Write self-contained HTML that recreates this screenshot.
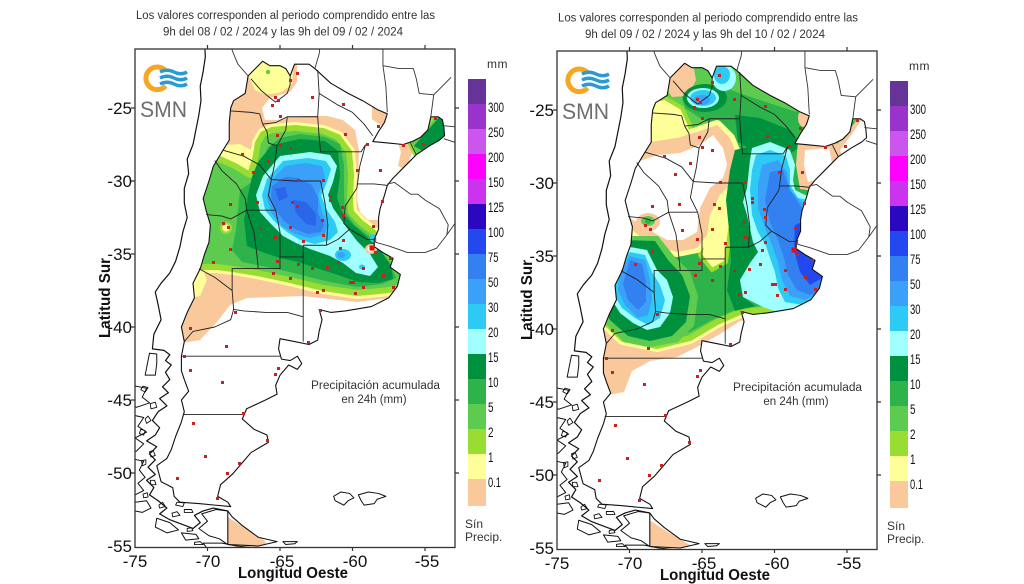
<!DOCTYPE html>
<html><head><meta charset="utf-8"><style>
html,body{margin:0;padding:0;background:#fff;width:1024px;height:584px;overflow:hidden}
svg{display:block}
text{font-family:"Liberation Sans",Arial,sans-serif}
</style></head><body>
<svg width="1024" height="584" viewBox="0 0 1024 584" xmlns="http://www.w3.org/2000/svg" xmlns:xlink="http://www.w3.org/1999/xlink">
<defs>
<clipPath id="fr"><rect x="135" y="49" width="320" height="498.5"/></clipPath>
<clipPath id="clipL">
<path transform="matrix(14.5 0 0 -14.6 1222.5 -257)" d="M-65.7,-22.1 L-65,-22.1 -64.6,-22.3 -64.3,-22.8 -64,-22 -63,-22 -62.6,-22.3 -61.5,-23.3 -60.3,-24 -59.3,-24.5 -58.3,-25.1 -57.6,-25.4 -57.8,-26 -58.2,-26.6 -58.6,-27.3 -57.5,-27.4 -56.5,-27.5 -55.9,-27.3 -55.3,-27 -54.8,-26.5 -54.6,-25.6 -54.1,-25.6 -53.8,-25.8 -53.7,-26.3 -53.65,-26.9 -54,-27.2 -54.7,-27.6 -55.6,-28.2 -56.3,-28.9 -57.2,-29.8 -57.6,-30.3 -57.8,-31 -58.1,-31.9 -58.2,-32.5 -58.2,-33.3 -58.5,-34 -58.5,-34.5 -57.9,-34.9 -57.2,-35.3 -57.4,-35.9 -56.7,-36.4 -56.9,-37.2 -57.5,-38 -58.7,-38.6 -60.5,-38.9 -61.5,-39 -62.3,-38.8 -62.1,-39.5 -62.3,-40.3 -62.4,-40.9 -63,-41.2 -64,-41 -65,-40.8 -65.1,-41.5 -64.9,-42.2 -64.3,-42.3 -63.8,-42 -63.5,-42.5 -63.8,-42.9 -64.4,-42.6 -65,-43.3 -65.3,-44 -65.2,-44.6 -66,-45 -67.3,-45.6 -67.6,-46.3 -66.8,-47 -65.9,-47.4 -65.8,-47.9 -67,-48.6 -67.6,-49.3 -68.3,-50.1 -69.1,-50.8 -69.3,-51.6 -68.6,-52 -68.4,-52.3 -69.5,-52.2 -70.5,-52.1 -71.9,-52 -72.3,-51.6 -72.4,-51 -73.2,-50.6 -73.5,-49.5 -72.8,-49 -72.5,-48.4 -72.2,-47.5 -71.8,-46.5 -71.6,-45.8 -71.8,-45 -71.3,-44.4 -71.6,-43.6 -71.8,-43 -71.8,-42 -71.6,-41 -71.8,-40 -71.4,-39 -70.9,-38 -71,-37 -70.5,-36 -70.2,-35 -69.9,-34.2 -69.8,-33 -70.1,-32 -70.3,-31.2 -69.9,-30 -69.6,-29 -69,-28 -68.5,-27.2 -68.5,-26 -68.4,-25 -68.2,-24.5 -67.4,-24 -67.2,-22.8 -66.8,-22.4 -66.2,-21.8 Z M-68.6,-52.6 L-68.3,-53 -67.6,-53.6 -66.5,-54.4 -65.2,-54.7 -66.5,-55 -68.6,-54.9 Z"/>
</clipPath>
<clipPath id="clipR">
<path transform="matrix(14.5 0 0 -14.6 1644.5 -255)" d="M-65.7,-22.1 L-65,-22.1 -64.6,-22.3 -64.3,-22.8 -64,-22 -63,-22 -62.6,-22.3 -61.5,-23.3 -60.3,-24 -59.3,-24.5 -58.3,-25.1 -57.6,-25.4 -57.8,-26 -58.2,-26.6 -58.6,-27.3 -57.5,-27.4 -56.5,-27.5 -55.9,-27.3 -55.3,-27 -54.8,-26.5 -54.6,-25.6 -54.1,-25.6 -53.8,-25.8 -53.7,-26.3 -53.65,-26.9 -54,-27.2 -54.7,-27.6 -55.6,-28.2 -56.3,-28.9 -57.2,-29.8 -57.6,-30.3 -57.8,-31 -58.1,-31.9 -58.2,-32.5 -58.2,-33.3 -58.5,-34 -58.5,-34.5 -57.9,-34.9 -57.2,-35.3 -57.4,-35.9 -56.7,-36.4 -56.9,-37.2 -57.5,-38 -58.7,-38.6 -60.5,-38.9 -61.5,-39 -62.3,-38.8 -62.1,-39.5 -62.3,-40.3 -62.4,-40.9 -63,-41.2 -64,-41 -65,-40.8 -65.1,-41.5 -64.9,-42.2 -64.3,-42.3 -63.8,-42 -63.5,-42.5 -63.8,-42.9 -64.4,-42.6 -65,-43.3 -65.3,-44 -65.2,-44.6 -66,-45 -67.3,-45.6 -67.6,-46.3 -66.8,-47 -65.9,-47.4 -65.8,-47.9 -67,-48.6 -67.6,-49.3 -68.3,-50.1 -69.1,-50.8 -69.3,-51.6 -68.6,-52 -68.4,-52.3 -69.5,-52.2 -70.5,-52.1 -71.9,-52 -72.3,-51.6 -72.4,-51 -73.2,-50.6 -73.5,-49.5 -72.8,-49 -72.5,-48.4 -72.2,-47.5 -71.8,-46.5 -71.6,-45.8 -71.8,-45 -71.3,-44.4 -71.6,-43.6 -71.8,-43 -71.8,-42 -71.6,-41 -71.8,-40 -71.4,-39 -70.9,-38 -71,-37 -70.5,-36 -70.2,-35 -69.9,-34.2 -69.8,-33 -70.1,-32 -70.3,-31.2 -69.9,-30 -69.6,-29 -69,-28 -68.5,-27.2 -68.5,-26 -68.4,-25 -68.2,-24.5 -67.4,-24 -67.2,-22.8 -66.8,-22.4 -66.2,-21.8 Z M-68.6,-52.6 L-68.3,-53 -67.6,-53.6 -66.5,-54.4 -65.2,-54.7 -66.5,-55 -68.6,-54.9 Z"/>
</clipPath>

<g id="geo" transform="matrix(14.5 0 0 -14.6 1222.5 -257)" fill="none" stroke="#111" stroke-linejoin="round">
<path vector-effect="non-scaling-stroke" stroke-width="1.1" d="M-65.7,-22.1 L-65,-22.1 -64.6,-22.3 -64.3,-22.8 -64,-22 -63,-22 -62.6,-22.3 -61.5,-23.3 -60.3,-24 -59.3,-24.5 -58.3,-25.1 -57.6,-25.4 -57.8,-26 -58.2,-26.6 -58.6,-27.3 -57.5,-27.4 -56.5,-27.5 -55.9,-27.3 -55.3,-27 -54.8,-26.5 -54.6,-25.6 -54.1,-25.6 -53.8,-25.8 -53.7,-26.3 -53.65,-26.9 -54,-27.2 -54.7,-27.6 -55.6,-28.2 -56.3,-28.9 -57.2,-29.8 -57.6,-30.3 -57.8,-31 -58.1,-31.9 -58.2,-32.5 -58.2,-33.3 -58.5,-34 -58.5,-34.5 -57.9,-34.9 -57.2,-35.3 -57.4,-35.9 -56.7,-36.4 -56.9,-37.2 -57.5,-38 -58.7,-38.6 -60.5,-38.9 -61.5,-39 -62.3,-38.8 -62.1,-39.5 -62.3,-40.3 -62.4,-40.9 -63,-41.2 -64,-41 -65,-40.8 -65.1,-41.5 -64.9,-42.2 -64.3,-42.3 -63.8,-42 -63.5,-42.5 -63.8,-42.9 -64.4,-42.6 -65,-43.3 -65.3,-44 -65.2,-44.6 -66,-45 -67.3,-45.6 -67.6,-46.3 -66.8,-47 -65.9,-47.4 -65.8,-47.9 -67,-48.6 -67.6,-49.3 -68.3,-50.1 -69.1,-50.8 -69.3,-51.6 -68.6,-52 -68.4,-52.3 -69.5,-52.2 -70.5,-52.1 -71.9,-52 -72.3,-51.6 -72.4,-51 -73.2,-50.6 -73.5,-49.5 -72.8,-49 -72.5,-48.4 -72.2,-47.5 -71.8,-46.5 -71.6,-45.8 -71.8,-45 -71.3,-44.4 -71.6,-43.6 -71.8,-43 -71.8,-42 -71.6,-41 -71.8,-40 -71.4,-39 -70.9,-38 -71,-37 -70.5,-36 -70.2,-35 -69.9,-34.2 -69.8,-33 -70.1,-32 -70.3,-31.2 -69.9,-30 -69.6,-29 -69,-28 -68.5,-27.2 -68.5,-26 -68.4,-25 -68.2,-24.5 -67.4,-24 -67.2,-22.8 -66.8,-22.4 -66.2,-21.8 Z"/>
<path vector-effect="non-scaling-stroke" stroke-width="1.1" d="M-68.6,-52.6 L-68.3,-53 -67.6,-53.6 -66.5,-54.4 -65.2,-54.7 -66.5,-55 -68.6,-54.9 Z"/>
<path vector-effect="non-scaling-stroke" stroke-width="1.2" d="M-70.2,-20.5 L-70.15,-21.5 -70.3,-22.5 -70.5,-23.5 -70.45,-24.5 -70.6,-25.5 -70.8,-26.5 -71,-27.5 -71.4,-28.5 -71.3,-29.5 -71.6,-30.5 -71.6,-31.5 -71.4,-32.5 -71.7,-33.5 -71.9,-34.5 -72.2,-35.5 -72.6,-36.3 -73.2,-37 -73.6,-37.6 -73.4,-38.5 -73.2,-39.5 -73.7,-40.5 -73.8,-41.5 -73,-41.6 -72.6,-41.9 -72.9,-42.3 -72.5,-42.6 -72.9,-43.1 -72.6,-43.6 -73.1,-44.1 -72.7,-44.5 -73.3,-44.9 -72.8,-45.4 -73.4,-45.8 -73.8,-46.4 -73.3,-46.9 -73.6,-47.4 -74.2,-47.8 -73.5,-48.2 -74,-48.7 -73.6,-49.1 -74.1,-49.6 -73.6,-50.1 -74.2,-50.5 -73.7,-51 -74,-51.5 -73.4,-51.9 -72.8,-52.4 -73.3,-52.8 -72.6,-53.2 -71.8,-53.5 -71,-53.8 -70.5,-53.4 -70.9,-52.9 -70.3,-52.6 -69.6,-52.4 -68.6,-52.6"/>
<path vector-effect="non-scaling-stroke" stroke-width="1" d="M-74,-41.8 L-73.5,-41.85 -73.5,-42.5 -73.6,-43.3 -74.3,-43.3 -74.1,-42.3 Z M-75.2,-44 L-74.2,-44.2 -74.5,-44.8 -74,-45.2 -74.9,-45.5 -75.2,-45.3 Z M-75.3,-46 L-74.4,-46.2 -74.8,-46.8 -74.2,-47.2 -75,-47.6 -74.4,-48 -74.9,-48.5 -75.3,-48.6 Z M-75.3,-49 L-74.4,-49.2 -74.7,-49.8 -74.3,-50.3 -74.8,-50.7 -74.4,-51.2 -75,-51.5 -75.3,-51.4 Z M-75,-52 L-74.2,-51.9 -73.9,-52.4 -74.5,-52.7 -75,-52.6 Z M-73.5,-53.1 L-72.6,-53.4 -72,-53.9 -72.8,-54.1 -73.6,-53.7 Z M-68.6,-52.6 L-69.4,-52.5 -70.4,-52.8 -70,-53.3 -70.6,-53.8 -69.9,-54.3 -69.2,-54.5 -68.6,-54.9 M-70.3,-54.8 L-69,-54.8 -68,-55 -67,-55.1 -67.8,-55.4 -69,-55.3 -70,-55.2 Z M-71.8,-54.1 L-70.8,-54.2 -70.6,-54.5 -71.5,-54.6 Z"/>
<path vector-effect="non-scaling-stroke" stroke-width="0.9" d="M-74.6,-44.3 l0.3,-0.15 0.2,0.3 -0.35,0.1z M-73.9,-45.6 l0.4,0.1 -0.1,0.35 -0.35,-0.1z M-74.2,-46.6 l0.3,0.2 -0.2,0.3 -0.2,-0.2z M-74.7,-47.3 l0.3,-0.1 0.1,0.3 -0.3,0.1z M-73.9,-48.9 l0.3,0.1 -0.15,0.35 -0.25,-0.1z M-74.5,-49.5 l0.25,0.1 0,0.3 -0.3,-0.05z M-73.9,-50.8 l0.35,0 -0.1,0.3 -0.3,0z M-74.4,-51.7 l0.3,0.05 -0.05,0.3 -0.3,-0.1z M-73.3,-52.4 l0.4,0.1 -0.2,0.3 -0.25,-0.2z M-72.4,-53 l0.5,0.1 -0.2,0.25 -0.35,-0.1z M-71.4,-54 l0.4,0.05 -0.1,0.2 -0.3,-0.05z M-70.9,-54.9 l0.6,0 -0.2,0.2 -0.4,-0.05z M-72.2,-52.2 l0.5,-0.1 0.1,0.25 -0.5,0.05z M-71.6,-52.7 l0.6,0 -0.1,0.2 -0.5,0z"/>
<path vector-effect="non-scaling-stroke" stroke-width="1" d="M-61.3,-51.6 L-60.8,-51.3 -60.2,-51.4 -59.9,-51.7 -60.3,-51.9 -60.6,-52.2 -61.2,-51.9 Z M-59.6,-51.5 L-58.9,-51.3 -58.2,-51.4 -57.7,-51.6 -58.3,-51.8 -58.5,-52.1 -59.2,-52.2 -59.4,-51.9 Z M-64.8,-54.7 L-63.8,-54.7 -64,-54.85 -64.6,-54.9 Z"/>
<path vector-effect="non-scaling-stroke" stroke-width="0.9" stroke="#333" d="M-68.8,-19.5 L-68.5,-20.5 -68.2,-21.3 -67.9,-22 -67.2,-22.8 M-62.6,-22.3 L-62.3,-21.3 -62.2,-20.5 M-57.9,-20.5 L-57.9,-22.1 -56.8,-22.3 -55.8,-22.3 -55.6,-23 -55.4,-24 -54.4,-24.1 -54.6,-25.6 M-57.9,-22.1 L-57.7,-23.5 -57.6,-25.3 M-54.4,-24.1 L-53.2,-22.9 M-53.8,-26.2 L-52.8,-26.3 M-53.7,-27.1 L-52.8,-27.4 M-57.6,-30.2 L-57.1,-30.1 -56,-30.9 -55.5,-30.9 -55,-31.3 -54,-31.9 -53.4,-33 -53.5,-33.7 M-58.4,-33.9 L-58.4,-34.2 -57.5,-34.45 -56.2,-34.9 -55,-34.9 -54.2,-34.6 -53.5,-33.7 -53,-33 -52.5,-32.3"/>
<path vector-effect="non-scaling-stroke" stroke-width="0.9" stroke="#222" d="M-67,-23 L-66.3,-23.8 -65.7,-24.3 -65.3,-24.6 -64.9,-24.3 -64.5,-24 -64.3,-23.4 -64.3,-22.8 M-68.4,-25.2 L-67,-25.3 -66.4,-25.4 -66.2,-26.1 -65.3,-26 -64.5,-25.6 -63.4,-25.6 -62.4,-25.6 -62.3,-24 -62.4,-22.4 M-62.3,-24 L-61,-24.8 -60,-25.3 -59.2,-26.1 -58.6,-26.9 M-62.4,-25.6 L-62.3,-27 -62.2,-28 -59.4,-28 -59.1,-27.5 M-64.5,-25.6 L-64.6,-26.5 -65.2,-27.6 -65.3,-28.3 -65.4,-29 -65.6,-29.9 M-66.2,-26.1 L-65.9,-26.6 -65.8,-27.4 -65.2,-27.6 M-68.9,-27.9 L-67.5,-28.3 -66.4,-28.9 -65.6,-29.9 M-69.5,-28.6 L-69,-29.3 -68,-30.2 -67.4,-31.2 -67.3,-32 M-65.6,-29.9 L-64,-30 -62.2,-30 M-65.6,-29.9 L-65.8,-31 -65.3,-32 M-67.3,-32 L-65.3,-32 M-70.1,-32.3 L-69,-32.4 -68.4,-32.6 -67.3,-32 M-67.3,-32 L-66.8,-33.5 -66.6,-35 -66.5,-36 M-65.3,-32 L-65,-33.5 -65,-35.2 M-66.5,-36 L-65,-36 -65,-35.2 -63.4,-35.2 M-66.5,-36 L-68.3,-36 -68.3,-37.5 -68.2,-38.8 M-70.6,-36 L-69.5,-36.6 -68.3,-37.5 M-68.2,-38.8 L-67.5,-38.9 -66,-39 -64.5,-39 -63.4,-39.3 M-68.2,-38.8 L-68.4,-39.5 -69.5,-40 -71,-40.3 -71.6,-41 M-63.4,-34.4 L-63.4,-41 M-63.4,-34.4 L-61.8,-34.4 -61,-34 -60.2,-33.3 M-62.2,-30 L-61.9,-31.5 -61.7,-33 -61.8,-34.4 M-59.1,-27.5 L-59.5,-29 -59.7,-30.5 -60.5,-31.7 -60.6,-32.9 -60.2,-33.3 -59,-34 -58.5,-34 M-59.7,-30.2 L-58.5,-30.2 -57.6,-30.3 M-56,-27.4 L-55.6,-28.2 M-71.8,-42 L-65,-42 M-71.7,-46 L-67.6,-46"/>
</g>

<g id="panel">
 <g clip-path="url(#fr)"><use xlink:href="#geo"/></g>
 <path fill="#c62222" d="M296,72h3v3h-3z M289,79h3v3h-3z M274,96h3v3h-3z M277,99h3v3h-3z M271,104h3v3h-3z M311,96h3v3h-3z M342,103h3v3h-3z M279,115h3v3h-3z M344,133h3v3h-3z M377,125h3v3h-3z M276,134h3v3h-3z M279,144h3v3h-3z M289,147h3v3h-3z M241,153h3v3h-3z M267,160h3v3h-3z M366,143h3v3h-3z M252,171h3v3h-3z M297,179h3v3h-3z M322,179h3v3h-3z M379,169h3v3h-3z M356,169h3v3h-3z M229,203h3v3h-3z M291,201h3v3h-3z M296,205h3v3h-3z M329,195h3v3h-3z M329,199h3v3h-3z M256,201h3v3h-3z M341,206h3v3h-3z M342,214h3v3h-3z M381,200h3v3h-3z M259,227h3v3h-3z M222,222h3v3h-3z M227,226h3v3h-3z M321,219h3v3h-3z M289,226h3v3h-3z M274,236h3v3h-3z M302,240h3v3h-3z M322,234h3v3h-3z M342,239h3v3h-3z M372,225h3v3h-3z M229,248h3v3h-3z M212,261h3v3h-3z M276,260h3v3h-3z M297,263h3v3h-3z M311,267h3v3h-3z M326,266h3v3h-3z M337,261h3v3h-3z M339,247h3v3h-3z M362,267h3v3h-3z M382,274h3v3h-3z M374,251h3v3h-3z M389,257h3v3h-3z M272,272h3v3h-3z M289,277h3v3h-3z M349,281h3v3h-3z M352,281h3v3h-3z M362,286h3v3h-3z M316,291h3v3h-3z M322,289h3v3h-3z M392,286h3v3h-3z M354,292h3v3h-3z M319,309h3v3h-3z M234,311h3v3h-3z M189,327h3v3h-3z M225,345h3v3h-3z M183,355h3v3h-3z M189,369h3v3h-3z M277,367h3v3h-3z M274,373h3v3h-3z M221,381h3v3h-3z M242,412h3v3h-3z M192,422h3v3h-3z M266,439h3v3h-3z M204,455h3v3h-3z M238,462h3v3h-3z M176,477h3v3h-3z M226,472h3v3h-3z M216,497h3v3h-3z M307,341h3v3h-3z M422,143h3v3h-3z M434,117h3v3h-3z M402,144h3v3h-3z"/>
 <rect x="369.5" y="245.5" width="5" height="5" fill="#e01010"/>
 <rect x="135" y="49" width="320" height="498.5" fill="none" stroke="#333" stroke-width="1.3"/>
 <path stroke="#333" stroke-width="1.2" fill="none" d="M131,108H135 M131,181H135 M131,254H135 M131,327H135 M131,400H135 M131,473H135 M455,108H459 M455,181H459 M455,254H459 M455,327H459 M455,400H459 M455,473H459 M207.5,45V49 M280,45V49 M352.5,45V49 M425,45V49 M207.5,547.5V551 M280,547.5V551 M352.5,547.5V551 M425,547.5V551"/>
 <g font-size="17" fill="#111" text-anchor="end">
  <text x="132" y="114">-25</text><text x="132" y="187">-30</text><text x="132" y="260">-35</text><text x="132" y="333">-40</text><text x="132" y="406">-45</text><text x="132" y="479">-50</text><text x="132" y="552">-55</text>
 </g>
 <g font-size="17" fill="#111" text-anchor="middle">
  <text x="135" y="567">-75</text><text x="208" y="567">-70</text><text x="282" y="567">-65</text><text x="355" y="567">-60</text><text x="427" y="567">-55</text>
 </g>
 <text x="293" y="578" font-size="16" font-weight="bold" fill="#111" text-anchor="middle" textLength="110" lengthAdjust="spacingAndGlyphs">Longitud Oeste</text>
 <text transform="translate(110,298) rotate(-90)" font-size="16" font-weight="bold" fill="#111" text-anchor="middle" textLength="80" lengthAdjust="spacingAndGlyphs">Latitud Sur</text>
 <path d="M165.6,70.7 A11.3,11.3 0 1,0 165.6,85.9" fill="none" stroke="#f5a623" stroke-width="5"/>
 <path d="M160,72 q7,-3.5 14,0 t13,0 M160,78 q7,-3.5 14,0 t13,0 M160,84 q7,-3.5 14,0 t13,0" fill="none" stroke="#2a9ad6" stroke-width="3.4"/>
 <text x="140" y="117" font-size="22" fill="#6d6e71" textLength="47" lengthAdjust="spacingAndGlyphs">SMN</text>
 <text x="311" y="389" font-size="11.5" fill="#333" textLength="129" lengthAdjust="spacingAndGlyphs">Precipitación acumulada</text>
 <text x="374" y="403" font-size="11.5" fill="#333" text-anchor="middle">en 24h (mm)</text>
 <rect x="468" y="79" width="18" height="25" fill="#663399"/>
 <rect x="468" y="104" width="18" height="25" fill="#9933cc"/>
 <rect x="468" y="129" width="18" height="25" fill="#cc55ee"/>
 <rect x="468" y="154" width="18" height="25" fill="#ff00ff"/>
 <rect x="468" y="179" width="18" height="25" fill="#cc33ee"/>
 <rect x="468" y="204" width="18" height="25" fill="#2a08c0"/>
 <rect x="468" y="229" width="18" height="25" fill="#2448f0"/>
 <rect x="468" y="254" width="18" height="25" fill="#3380f0"/>
 <rect x="468" y="279" width="18" height="25" fill="#3aa0f8"/>
 <rect x="468" y="304" width="18" height="25" fill="#2ccaf5"/>
 <rect x="468" y="329" width="18" height="25" fill="#a0ffff"/>
 <rect x="468" y="354" width="18" height="25" fill="#00913f"/>
 <rect x="468" y="379" width="18" height="25" fill="#2db34a"/>
 <rect x="468" y="404" width="18" height="25" fill="#5ccb50"/>
 <rect x="468" y="429" width="18" height="25" fill="#99dd33"/>
 <rect x="468" y="454" width="18" height="25" fill="#ffff99"/>
 <rect x="468" y="479" width="18" height="27" fill="#f9c89b"/>
 <g font-size="14" fill="#111">
  <text x="488" y="112" textLength="16" lengthAdjust="spacingAndGlyphs">300</text>
  <text x="488" y="137" textLength="16" lengthAdjust="spacingAndGlyphs">250</text>
  <text x="488" y="162" textLength="16" lengthAdjust="spacingAndGlyphs">200</text>
  <text x="488" y="187" textLength="16" lengthAdjust="spacingAndGlyphs">150</text>
  <text x="488" y="212" textLength="16" lengthAdjust="spacingAndGlyphs">125</text>
  <text x="488" y="237" textLength="16" lengthAdjust="spacingAndGlyphs">100</text>
  <text x="488" y="262" textLength="10.5" lengthAdjust="spacingAndGlyphs">75</text>
  <text x="488" y="287" textLength="10.5" lengthAdjust="spacingAndGlyphs">50</text>
  <text x="488" y="312" textLength="10.5" lengthAdjust="spacingAndGlyphs">30</text>
  <text x="488" y="337" textLength="10.5" lengthAdjust="spacingAndGlyphs">20</text>
  <text x="488" y="362" textLength="10.5" lengthAdjust="spacingAndGlyphs">15</text>
  <text x="488" y="387" textLength="10.5" lengthAdjust="spacingAndGlyphs">10</text>
  <text x="488" y="412" textLength="5.5" lengthAdjust="spacingAndGlyphs">5</text>
  <text x="488" y="437" textLength="5.5" lengthAdjust="spacingAndGlyphs">2</text>
  <text x="488" y="462" textLength="5.5" lengthAdjust="spacingAndGlyphs">1</text>
  <text x="488" y="487" textLength="13" lengthAdjust="spacingAndGlyphs">0.1</text>
 </g>
 <text x="487" y="68" font-size="12" fill="#333" letter-spacing="0.5">mm</text>
 <text x="465" y="528" font-size="12" fill="#333">Sín</text>
 <text x="465" y="541" font-size="12" fill="#333">Precip.</text>
</g>

<path id="gL" d="M185,148 L213,156 L235,166 L250,175 L255,160 L258,143 L263,134 L272,130 L295,128 L323,131 L338,137 L349,152 L351,175 L350,200 L351,212 L360,222 L373,232 L383,243 L391,256 L401,270 L408,283 L395,289 L380,291 L357,293 L323,288 L290,280 L257,273 L233,269 L217,267 L200,267 L185,270 Z"/>
<path id="gR" d="M540,40 L900,40 L900,296 L820,304 L800,308 L763,310 L740,312 L717,322 L690,338 L657,346 L623,339 L605,322 L595,312 L540,312 Z"/>
<path id="pR" d="M630,152 L650,142 L677,138 L697,132 L717,125 L730,138 L737,155 L733,182 L720,195 L710,215 L707,235 L697,248 L677,252 L650,245 L630,228 L610,215 L610,160 Z"/>
</defs>

<rect width="1024" height="584" fill="#fff"/>

<g clip-path="url(#clipL)" stroke-linejoin="round">
 <path fill="#f9c89b" d="M120,40 L470,40 L470,282 L405,290 L390,298 L357,302 L303,296 L247,298 L230,305 L217,322 L200,340 L183,343 L120,345 Z"/>
 <path fill="#f9c89b" d="M226,516 L245,528 L264,540 L272,552 L226,552 Z"/>
 <path fill="#fff" d="M297,30 L297,82 L290,92 L270,98 L262,108 L265,120 L277,120 L290,117 L303,116 L327,116 L343,120 L355,130 L359,150 L358,180 L357,200 L360,212 L368,220 L378,220 L395,200 L420,185 L470,160 L470,30 Z"/>
 <path fill="#f9c89b" d="M372,104 L388,104 L392,120 L382,126 L372,119 Z"/>
 <path fill="#f9c89b" d="M397,140 L412,136 L413,150 L406,170 L398,166 L401,152 Z"/>
 <path fill="#ffff99" d="M247,62 L280,58 L293,66 L292,84 L282,92 L266,95 L255,90 L248,75 Z"/>
 <circle cx="268" cy="72" r="2.2" fill="#5ccb50"/>
 <path fill="#ffff99" d="M212,146 L240,144 L257,153 L268,166 L264,182 L250,180 L235,170 L212,166 Z"/>
 <path fill="#ffff99" d="M180,266 L200,264 L207,280 L200,296 L183,300 Z"/>
 <use xlink:href="#gL" fill="#ffff99" stroke="#ffff99" stroke-width="12"/>
 <use xlink:href="#gL" fill="#5ccb50" stroke="#99dd33" stroke-width="6"/>
 <path fill="#2db34a" d="M240,190 L252,182 L260,165 L268,147 L280,138 L300,134 L325,137 L340,144 L344,165 L344,195 L345,212 L355,225 L370,237 L380,250 L390,264 L396,278 L382,284 L357,287 L325,281 L290,272 L262,266 L242,262 L232,250 L236,230 L238,210 Z"/>
 <path fill="#00913f" d="M258,162 L272,145 L300,139 L325,141 L338,151 L340,175 L337,198 L342,212 L352,224 L366,236 L380,250 L391,265 L393,279 L378,283 L358,282 L338,275 L316,268 L298,262 L280,258 L262,252 L247,246 L244,220 L248,195 L252,177 Z"/>
 <path fill="#a0ffff" d="M263,176 L280,156 L310,152 L330,155 L337,166 L333,182 L328,195 L333,208 L340,218 L347,228 L357,241 L370,254 L378,267 L370,276 L356,273 L343,263 L330,256 L310,249 L296,243 L283,236 L270,223 L260,212 L256,195 Z"/>
 <path fill="#2ccaf5" d="M267,179 L283,161 L308,158 L326,161 L331,169 L327,182 L321,196 L327,210 L335,222 L338,232 L330,240 L315,244 L300,240 L287,232 L274,221 L265,210 L262,195 Z"/>
 <ellipse cx="343" cy="255" rx="8" ry="6" fill="#2ccaf5"/>
 <ellipse cx="341" cy="255" rx="4" ry="3" fill="#3aa0f8"/>
 <ellipse cx="362" cy="267" rx="3" ry="2.5" fill="#2ccaf5"/>
 <path fill="#3aa0f8" d="M270,182 L285,166 L306,163 L322,166 L325,178 L318,195 L322,212 L328,224 L325,234 L310,238 L295,234 L282,226 L272,214 L267,198 Z"/>
 <path fill="#3380f0" d="M272,186 L285,177 L298,178 L312,185 L318,198 L318,214 L324,224 L321,232 L308,234 L295,229 L284,221 L275,209 L271,197 Z"/>
 <path fill="#2a66ea" d="M293,200 L306,202 L316,214 L316,226 L306,224 L296,213 Z M275,189 L285,187 L288,197 L279,201 Z"/>
 <path fill="#5ccb50" stroke="#99dd33" stroke-width="4" d="M408,140 L428,124 L442,106 L470,95 L470,170 L418,160 Z"/>
 <path fill="#00913f" d="M414,146 L428,130 L442,114 L455,108 L470,110 L470,130 L445,140 L425,152 Z"/>
 <ellipse cx="371" cy="249" rx="6" ry="5" fill="#f9c89b"/>
 <ellipse cx="371" cy="249" rx="3.5" ry="3" fill="#fff"/>
 <ellipse cx="373" cy="238" rx="3" ry="4" fill="#2ccaf5"/>
 <circle cx="226" cy="228" r="6" fill="#99dd33"/>
 <circle cx="226" cy="228" r="3.5" fill="#ffff99"/>
</g>

<g clip-path="url(#clipR)" stroke-linejoin="round">
 <path fill="#f9c89b" d="M540,40 L900,40 L900,300 L840,308 L800,314 L760,317 L740,321 L720,334 L697,347 L677,357 L650,361 L632,371 L624,392 L603,396 L540,396 Z"/>
 <path fill="#f9c89b" d="M646,518 L668,532 L690,545 L698,556 L646,556 Z"/>
 <use xlink:href="#gR" fill="#ffff99" stroke="#ffff99" stroke-width="12"/>
 <use xlink:href="#gR" fill="#5ccb50" stroke="#99dd33" stroke-width="6"/>
 <path fill="#2db34a" d="M680,90 L720,86 L745,95 L790,110 L830,120 L900,125 L900,296 L800,305 L760,306 L735,310 L712,320 L690,332 L665,338 L640,335 L620,325 L612,300 L625,258 L660,250 L700,248 L712,232 L720,205 L735,185 L742,160 L735,140 L720,128 L700,118 L685,108 Z"/>
 <path fill="#ffff99" stroke="#99dd33" stroke-width="4" d="M645,102 L665,98 L682,108 L690,125 L692,142 L680,150 L658,152 L645,140 Z"/>
 <path fill="#f9c89b" d="M664,60 L692,58 L696,80 L688,96 L672,97 L662,82 Z"/>
 <path fill="#ffff99" stroke="#99dd33" stroke-width="4" d="M720,190 L735,185 L738,205 L730,230 L726,262 L712,270 L700,255 L705,235 L712,210 Z"/>
 <use xlink:href="#pR" fill="#f9c89b" stroke="#ffff99" stroke-width="10" style="paint-order:stroke"/>
 <path fill="#fff" d="M637,162 L657,155 L680,153 L700,145 L713,135 L723,148 L727,165 L723,178 L710,188 L700,208 L697,232 L683,240 L667,240 L653,232 L637,222 L615,210 L615,170 Z"/>
 <ellipse cx="648" cy="222" rx="12" ry="9" fill="#f9c89b"/>
 <ellipse cx="648" cy="221" rx="7" ry="5" fill="#5ccb50"/>
 <ellipse cx="648" cy="221" rx="3" ry="3" fill="#2db34a"/>
 <ellipse cx="705" cy="98" rx="22" ry="14" fill="#00913f"/>
 <path fill="#00913f" d="M735,115 L760,118 L790,130 L802,145 L790,154 L770,147 L752,150 L738,142 Z"/>
 <path fill="#00913f" d="M735,150 L752,146 L750,160 L747,188 L743,202 L747,215 L753,242 L758,252 L750,263 L740,280 L743,297 L755,306 L735,311 L727,290 L731,260 L729,230 L726,200 L730,170 Z"/>
 <path fill="#5ccb50" d="M618,236 L658,236 L674,256 L690,272 L698,296 L694,326 L678,342 L650,347 L624,342 L606,324 L596,300 L600,256 Z"/>
 <path fill="#00913f" d="M622,240 L655,241 L668,260 L682,275 L690,296 L686,322 L672,336 L650,341 L628,336 L610,320 L600,300 L605,258 Z"/>
 <path fill="#f9c89b" d="M798,140 L815,136 L836,140 L841,160 L831,181 L815,191 L800,189 L796,165 Z"/>
 <path fill="#fff" d="M805,150 L829,148 L832,162 L822,178 L808,182 L804,165 Z"/>
 <path fill="#f9c89b" d="M830,152 L845,135 L860,116 L900,104 L900,170 L840,168 Z"/>
 <path fill="#fff" d="M840,150 L852,134 L864,116 L900,108 L900,170 L846,165 Z"/>
 <ellipse cx="804" cy="118" rx="6" ry="9" fill="#f9c89b"/>
 <ellipse cx="703" cy="98" rx="16" ry="10" fill="#a0ffff"/>
 <ellipse cx="703" cy="98" rx="13" ry="8" fill="#2ccaf5"/>
 <ellipse cx="702" cy="100" rx="8" ry="5" fill="#3aa0f8"/>
 <ellipse cx="724" cy="78" rx="12" ry="13" fill="#a0ffff"/>
 <ellipse cx="722" cy="75" rx="8" ry="9" fill="#2ccaf5"/>
 <path fill="#a0ffff" d="M752,148 L770,142 L790,150 L795,165 L793,180 L795,190 L805,195 L818,197 L830,199 L900,199 L900,292 L820,297 L803,310 L780,313 L763,307 L743,297 L740,280 L750,263 L758,252 L753,242 L747,215 L743,202 L747,188 L750,160 Z"/>
 <path fill="#2ccaf5" d="M756,155 L770,150 L786,156 L790,170 L790,185 L798,198 L830,204 L900,204 L900,290 L820,294 L803,305 L785,302 L778,288 L775,272 L770,258 L766,246 L758,232 L752,215 L750,190 L752,170 Z"/>
 <path fill="#3aa0f8" d="M762,165 L778,160 L787,172 L790,190 L802,203 L835,208 L900,208 L900,288 L822,291 L805,300 L790,296 L782,280 L778,262 L772,245 L765,228 L758,208 L758,185 Z"/>
 <path fill="#3380f0" d="M770,172 L783,170 L790,190 L802,208 L840,214 L900,214 L900,285 L825,288 L810,295 L797,290 L788,275 L784,258 L778,240 L770,222 L765,200 Z"/>
 <path fill="#2448f0" d="M795,225 L808,220 L818,235 L823,255 L822,278 L810,285 L800,272 L794,250 Z"/>
 <path fill="#a0ffff" d="M630,247 L647,250 L657,270 L667,280 L673,297 L670,313 L660,327 L647,330 L633,323 L620,313 L610,297 L610,280 L620,257 Z"/>
 <path fill="#2ccaf5" d="M630,252 L645,255 L652,272 L660,285 L665,300 L660,318 L648,325 L635,318 L622,308 L614,295 L615,278 L622,260 Z"/>
 <path fill="#3aa0f8" d="M630,256 L645,260 L650,280 L652,300 L648,315 L638,318 L625,305 L618,290 L620,270 Z"/>
 <path fill="#3380f0" d="M630,260 L642,264 L646,282 L646,302 L638,310 L628,300 L623,284 Z"/>
</g>

<use xlink:href="#panel"/>
<use xlink:href="#panel" transform="translate(422,2)"/>

<g font-size="11.5" fill="#333" text-anchor="middle" style="white-space:pre">
 <text x="285.5" y="19" textLength="299" lengthAdjust="spacingAndGlyphs">Los valores corresponden al periodo comprendido entre las</text>
 <text x="283" y="35.7" textLength="240" lengthAdjust="spacingAndGlyphs">9h del 08 / 02 / 2024  y las 9h del 09 / 02 / 2024</text>
 <text x="708" y="21.5" textLength="300" lengthAdjust="spacingAndGlyphs">Los valores corresponden al periodo comprendido entre las</text>
 <text x="705" y="38" textLength="240" lengthAdjust="spacingAndGlyphs">9h del 09 / 02 / 2024  y las 9h del 10 / 02 / 2024</text>
</g>
</svg>
</body></html>
